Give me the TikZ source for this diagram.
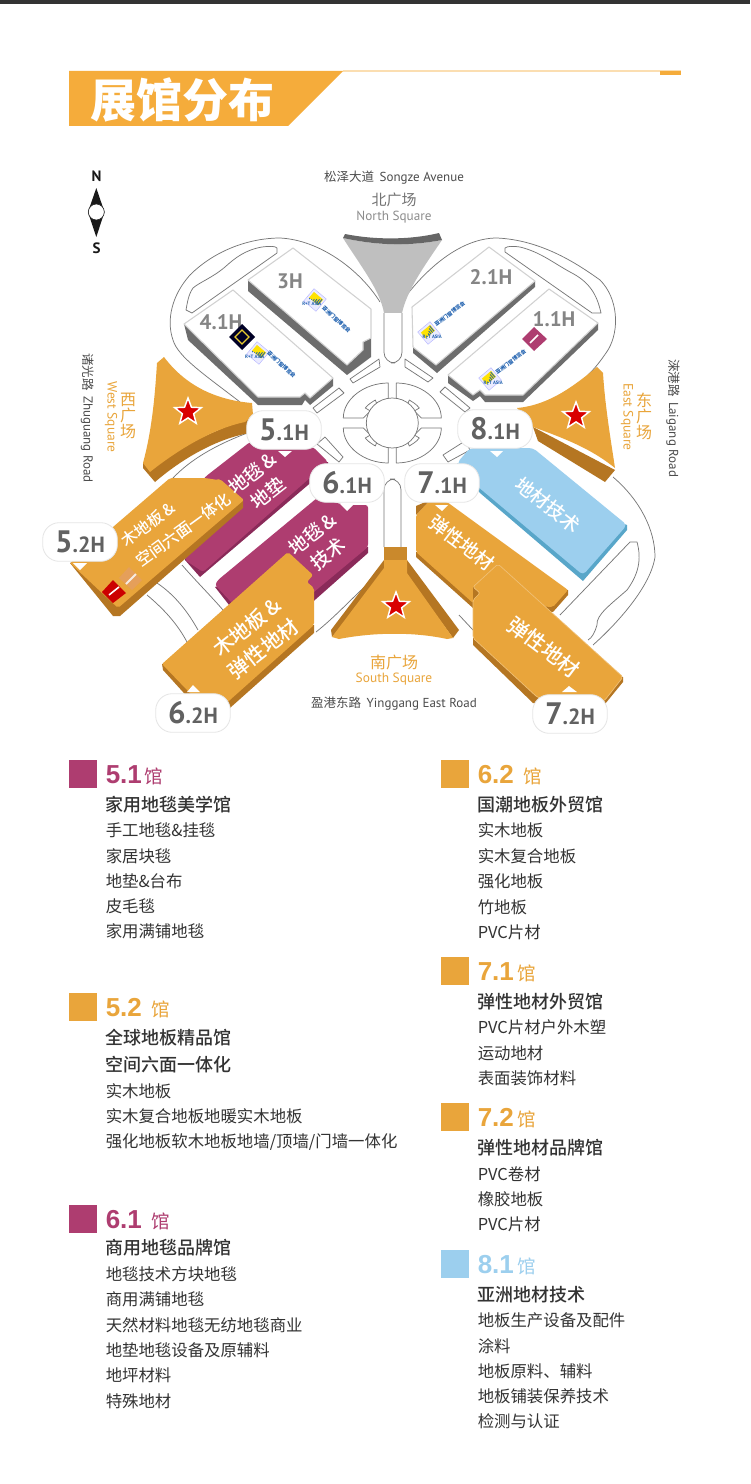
\documentclass[tikz,border=0pt]{standalone}
\usepackage{fontspec}
\setmainfont{Noto Sans CJK SC}
\newfontfamily\din{PT Sans}
\newfontfamily\arl{Liberation Sans}
\newfontfamily\cjkm{Noto Sans CJK SC Medium}
\definecolor{org}{HTML}{E9A53B}
\definecolor{orgd}{HTML}{B57622}
\definecolor{ttl}{HTML}{F5AC3B}
\definecolor{mag}{HTML}{AE3D70}
\definecolor{magd}{HTML}{8A2A59}
\definecolor{blu}{HTML}{9CCFEE}
\definecolor{blud}{HTML}{58A6C9}
\definecolor{hdark}{HTML}{6D6D6D}
\definecolor{rline}{HTML}{777777}
\definecolor{txt}{HTML}{333333}
\definecolor{logob}{HTML}{1D5FAE}
\newcommand{\px}[1]{\fontsize{\dimexpr#1pt*3/4\relax}{\dimexpr#1pt*3/4\relax}\selectfont}
\newcommand{\pxl}[2]{\fontsize{\dimexpr#1pt*3/4\relax}{\dimexpr#2pt*3/4\relax}\selectfont}
\tikzset{
 road/.style={draw=rline,line width=0.55pt,fill=white,line join=round},
 roadl/.style={draw=rline,line width=0.55pt,line join=round},
 hallface/.style={fill=white,draw=black!18,line width=0.8pt,line join=round},
 hallside/.style={fill=hdark},
 pill/.style={fill=white,draw=black!10,line width=0.6pt,rounded corners=12.5pt,minimum width=56pt,minimum height=29pt,inner sep=0pt},
 halltxt/.style={text=black!48,font=\din\bfseries\px{21}},
 head/.style={anchor=west,inner sep=0pt,font=\arl\bfseries\px{26}},
 item/.style={anchor=west,inner sep=0pt,text=txt,font=\px{16.4}},
 itemb/.style={anchor=west,inner sep=0pt,text=txt,font=\cjkm\px{18}},
 wlabel/.style={text=white,inner sep=0pt},
 sq/.style={text=org,inner sep=0pt},
 rdtxt/.style={text=black!70,inner sep=0pt,font=\px{12.5}},
 star/.style={fill=red!85!black,draw=white,line width=1.1pt},
}
\newcommand{\starat}[3]{\fill[star] plot[samples at={0,...,10}] ({#1+#3*(mod(\x,2)==0?1:0.42)*sin(36*\x)},{#2-#3*(mod(\x,2)==0?1:0.42)*cos(36*\x)}) -- cycle;}
\newcommand{\rtlogo}[3]{%
\begin{scope}[shift={(#1,#2)},rotate=#3]
\fill[fill=blue!8,draw=blue!30,line width=.3pt] (-8,-8) rectangle (8,8);
\fill[yellow!85!orange] (-6,-5.5) rectangle (6,2);
\foreach \i in {-5,-3,-1,1,3,5}{\fill[logob] (\i-.4,{-1-\i*.8}) rectangle (\i+.4,2);}
\node[text=logob,inner sep=0,font=\din\bfseries\fontsize{3.6}{3.6}\selectfont] at (0,5) {R+T ASIA};
\end{scope}}
\begin{document}
\begin{tikzpicture}[x=0.75pt,y=-0.75pt]
\useasboundingbox (0,0) rectangle (750,1484);
\fill[white] (0,0) rectangle (750,1484);
\fill[black!80] (0,0) rectangle (750,4);
% title
\fill[ttl!40] (343,70) rectangle (681,72.5);
\fill[ttl] (69,71) -- (343,71) -- (288,126) -- (69,126) -- cycle;
\fill[ttl] (660,71) rectangle (681,75.5);
\node[text=white,inner sep=0,font=\bfseries\px{46}] (title) at (182,100) {展馆分布};
% compass
\node[inner sep=0,font=\din\bfseries\px{15},text=black!90] (cn) at (96.5,176) {N};
\node[inner sep=0,font=\din\bfseries\px{15},text=black!90] (cs) at (96.5,248) {S};
\fill[black!90] (96.3,188) -- (104.5,212) -- (96.3,237) -- (88,212) -- cycle;
\draw[fill=white,draw=black!85,line width=.5pt] (96.3,212) ellipse (8 and 8);
% top labels
\node[rdtxt] (t1) at (394,178) {松泽大道\,{\din\px{13} Songze Avenue}};
\node[inner sep=0,text=black!55,font=\px{15}] (t2) at (394,200) {北广场};
\node[inner sep=0,text=black!45,font=\din\px{13.2}] (t3) at (394,217) {North Square};
% roads outlines
\draw[roadl] (240,402) .. controls (205,375) and (178,357) .. (173,340) .. controls (166,320) and (172,295) .. (190,275) .. controls (215,250) and (250,238) .. (280,238) .. controls (320,240) and (360,270) .. (380,302);
\draw[roadl] (403,300) .. controls (425,270) and (460,238) .. (497,238) .. controls (540,240) and (575,262) .. (600,280) .. controls (618,298) and (620,330) .. (608,350) .. controls (600,362) and (595,368) .. (588,375);
\draw[road] (277,248) .. controls (275,246) and (270,246) .. (262,247) .. controls (245,250) and (235,258) .. (225,267) .. controls (212,278) and (200,282) .. (193,288) .. controls (188,295) and (187,305) .. (186,310) -- (192,313) -- (277,253) -- cycle;
\draw[road] (505,248) .. controls (508,246) and (512,246) .. (520,247) .. controls (540,252) and (552,262) .. (570,272) .. controls (590,282) and (597,295) .. (601,313) -- (592,313) -- (505,252) -- cycle;
% lower roads
\draw[roadl] (173,478) .. controls (190,460) and (215,445) .. (250,432);
\draw[roadl] (182,565) .. controls (195,580) and (210,595) .. (223,610);
\draw[roadl] (157,583) .. controls (175,595) and (188,612) .. (198,630);
\draw[roadl] (147,595) .. controls (165,610) and (178,625) .. (187,642);
\draw[roadl] (316,632) .. controls (335,617) and (350,600) .. (372,580);
\draw[roadl] (459,615) -- (473,630);
\draw[roadl] (613,477) .. controls (640,500) and (655,530) .. (655,557) .. controls (650,590) and (610,630) .. (593,645);
\draw[roadl] (560,615) -- (630,542) -- (637,542) .. controls (642,560) and (638,575) .. (627,590) .. controls (610,605) and (596,615) .. (597,625) .. controls (595,632) and (592,638) .. (588,640);
% funnel
\fill[black!25] (343,238) .. controls (380,246) and (410,246) .. (442,240) .. controls (425,265) and (407,290) .. (402,313) -- (384,313) .. controls (380,290) and (360,265) .. (343,238) -- cycle;
\fill[black!60] (345,234) .. controls (375,240) and (410,240) .. (439,233) -- (442,240) .. controls (410,246) and (380,246) .. (343,238) -- cycle;
\draw[road,rounded corners=8pt] (384,313) -- (384,363) -- (402,363) -- (402,313);
\draw[road,rounded corners=8pt] (384,547) -- (384,479) -- (401,479) -- (401,547);
% roundabout
\begin{scope}[shift={(392.3,423)}]
\foreach \sx/\sy in {1/1,-1/1,1/-1,-1/-1}{
\begin{scope}[xscale=\sx,yscale=\sy]
\draw[road] (-4,-40) .. controls (-28,-40) and (-49,-24) .. (-49,-5) -- (-29,-5) -- (-22,-12) -- (-27,-15) .. controls (-24,-19) and (-20,-21) .. (-17,-23) -- (-15,-18) -- (-4,-24) -- cycle;
\end{scope}}
\draw[road] (0,0) ellipse (26 and 25);
\end{scope}
\draw[road] (379,359)--(350,379)--(353,383)--(380,367)--cycle;
\draw[road] (405,359)--(433,378)--(428,382)--(405,367)--cycle;
\draw[road] (339,388)--(313,408)--(317,413)--(344,393)--cycle;
\draw[road] (445,387)--(470,408)--(465,412)--(440,392)--cycle;
\draw[road] (325,437)--(343,457)--(339,462)--(317,444)--cycle;
\draw[road] (465,441)--(443,455)--(448,462)--(470,450)--cycle;
% exhibition halls upper
\fill[hallside] (248,280) -- (248,291) -- (347,375) -- (371,357) -- (371,338) -- (363,342) -- (363,350) -- (347,365) -- cycle;
\draw[hallface] (293,248) -- (371,309) -- (371,338) -- (363,342) -- (363,350) -- (347,365) -- (248,280) -- cycle;
\fill[hallside] (184,324) -- (188,340) -- (258,405) -- (302,405) -- (305,400) -- (310,405) -- (333,386) -- (333,378) -- (310,398) -- (305,393) -- (300,397) -- (258,397) -- cycle;
\draw[hallface] (233,290) -- (333,378) -- (310,398) -- (305,393) -- (300,397) -- (258,397) -- (184,324) -- cycle;
\fill[hallside] (413,347) -- (413,353) -- (437,373) -- (535,287) -- (535,281) -- (436,365) -- cycle;
\draw[hallface] (489,247) -- (535,281) -- (436,365) -- (413,347) -- (412,307) -- cycle;
\fill[hallside] (448,375) -- (448,383) -- (473,401) -- (480,396) -- (485,402) -- (523,402) -- (598,330) -- (598,323) -- (523,395) -- cycle;
\draw[hallface] (549,289) -- (598,323) -- (523,395) -- (485,395) -- (480,390) -- (473,395) -- (448,375) -- cycle;
\node[halltxt] (h3) at (290,281) {3H};
\node[halltxt] (h41) at (221,322) {4.1H};
\node[halltxt] (h21) at (491,277) {2.1H};
\node[halltxt] (h11) at (554,319) {1.1H};
\rtlogo{315}{300}{-40}
\rtlogo{258}{353}{-40}
\rtlogo{429}{333}{40}
\rtlogo{490}{379}{40}
\foreach \a/\b/\r in {323/307/-43,268/352/-43,435/325/37,496/373/37}{
\node[rotate=\r,anchor=west,inner sep=0,text=logob,font=\bfseries\px{5.2}] at (\a,\b) {亚洲门窗博览会};}
\fill[black!85!blue] (242,324) -- (255,337) -- (242,350) -- (229,337) -- cycle;
\draw[yellow!60!brown,line width=1pt] (242,330) -- (249,337) -- (242,344) -- (235,337) -- cycle;
\fill[mag] (534,327) -- (547,339) -- (534,351) -- (522,339) -- cycle;
\draw[white,line width=1.3pt] (530,343) -- (538,335);
% squares
\fill[orgd] (143,463) -- (143,468) -- (155,482) .. controls (190,452) and (225,437) .. (250,433) -- (253,415) -- cycle;
\fill[org] (164,357) .. controls (185,385) and (215,400) .. (252,403) -- (253,415) -- (245,422) .. controls (215,428) and (180,448) .. (150,472) -- (143,463) .. controls (152,430) and (155,395) .. (157,363) -- cycle;
\starat{188}{412}{14}
\fill[orgd] (533,427) -- (538,441) -- (605,482) -- (615,470) -- cycle;
\fill[org] (597,367) -- (603,373) .. controls (605,405) and (610,435) .. (615,468) .. controls (595,452) and (575,442) .. (533,427) -- (517,408) .. controls (550,405) and (575,385) .. (597,367) -- cycle;
\starat{576}{416}{14}
\fill[orgd] (384,560) -- (331,630) -- (332,637) -- (384,575) -- (407,575) -- (453,638) -- (459,630) -- (407,560) -- cycle;
\fill[org] (384,568) -- (384,560) -- (407,560) -- (407,573) -- (453,638) -- (447,639) .. controls (415,632) and (375,632) .. (339,639) -- (332,637) -- cycle;
\fill[orgd!60!org] (384,547) rectangle (407,560);
\starat{396}{606}{14}
% halls lower
\fill[blud] (457,463) -- (480,493) -- (583,581) -- (627,530) -- (627,525) -- cycle;
\fill[blu,rounded corners=3pt] (457,463) -- (470,448) -- (533,448) -- (627,525) -- (583,575) -- (477,486) -- cycle;
\fill[magd] (205,477) -- (185,560) -- (200,577) -- (328,468) -- (328,462) -- cycle;
\fill[mag,rounded corners=2pt] (205,477) -- (250,442) -- (265,447) -- (313,447) -- (328,462) -- (203,572) -- (185,560) -- cycle;
\fill[magd] (215,587) -- (233,610) -- (290,622) -- (368,553) -- (368,547) -- cycle;
\fill[mag,rounded corners=2pt] (215,585) -- (218,580) -- (317,498) -- (345,505) -- (368,505) -- (368,547) -- (290,612) -- (233,604) -- cycle;
\fill[orgd] (70,563) -- (113,616) -- (120,616) -- (243,508) -- (243,500) -- cycle;
\fill[org,rounded corners=1.5pt] (70,563) -- (113,527) -- (170,478) -- (205,478) -- (218,480) -- (220,479) -- (244,500) -- (118,608) -- cycle;
\fill[orgd] (162,664) -- (163,670) -- (212,724) -- (314,633) -- (314,625) -- cycle;
\fill[org,rounded corners=1.5pt] (288,552) -- (313,575) -- (307,582) -- (314,588) -- (314,625) -- (212,716) -- (162,664) -- cycle;
\fill[orgd] (416,552) -- (416,557) -- (473,608) -- (553,612) -- (568,595) -- (568,590) -- cycle;
\fill[org,rounded corners=1.5pt] (416,515) -- (430,500) -- (447,502) -- (568,590) -- (553,607) -- (473,603) -- (416,552) -- cycle;
\fill[orgd] (416,515) -- (416,506) -- (430,500) -- cycle;
\fill[orgd] (473,638) -- (473,645) -- (533,703) -- (605,704) -- (623,682) -- (623,677) -- cycle;
\fill[orgd] (473,587) -- (473,600) -- (480,593) -- cycle;
\draw[fill=org,draw=org!70!white,line width=.5pt,rounded corners=1.5pt] (498,564) -- (623,677) -- (605,700) -- (580,715) -- (537,697) -- (473,638) -- (473,600) -- (480,593) -- (473,587) -- cycle;
% hall labels
\node[wlabel,rotate=36,align=left,font=\cjkm\pxl{16}{25}] (w1) at (176,520) {木地板\,\&\\空间六面一体化};
\node[wlabel,rotate=38,align=center,font=\cjkm\pxl{19}{25}] (w2) at (260,483) {地毯\,\&\\地垫};
\node[wlabel,rotate=38,align=center,font=\cjkm\pxl{19}{25}] (w3) at (320,544) {地毯\,\&\\技术};
\node[wlabel,rotate=38,align=center,font=\cjkm\pxl{20.5}{27}] (w4) at (255,638) {木地板\,\&\\弹性地材};
\node[wlabel,rotate=-37,font=\cjkm\px{19}] (w5) at (462,543) {弹性地材};
\node[wlabel,rotate=-37,font=\cjkm\px{21}] (w6) at (544,647) {弹性地材};
\node[wlabel,rotate=-38,font=\cjkm\px{19}] (w7) at (548,505) {地材技术};
% small brand marks
\fill[red!80!black] (113,580) -- (126,593) -- (113,603) -- (102,592) -- cycle;
\draw[white,line width=1.2pt] (109,595) -- (119,587);
\fill[brown!55!orange!75] (129,567) -- (142,580) -- (132,590) -- (119,578) -- cycle;
\draw[white!85!brown,line width=1.5pt] (126,584) -- (136,574);
% triangles
\fill[white] (73,563) -- (87,563) -- (80,570) -- cycle;
\fill[white] (278,451) -- (292,451) -- (285,457) -- cycle;
\fill[white] (340,504) -- (354,504) -- (347,511) -- cycle;
\fill[white] (435,505) -- (448,505) -- (442,511) -- cycle;
\fill[white] (490,451) -- (503,451) -- (497,457) -- cycle;
\fill[white] (187,692) -- (193,685) -- (200,692) -- cycle;
\fill[white] (562,692) -- (569,686) -- (577,692) -- cycle;
% pills
\foreach \n/\x/\y/\a/\b in {p51/284/430/5/.1H,p52/80/542/5/.2H,p61/347/483/6/.1H,p62/193/713/6/.2H,p71/442/483/7/.1H,p72/570/714/7/.2H,p81/495/429/8/.1H}{
\node[pill,text=black!62] (\n) at (\x,\y) {\din\bfseries\px{31}\a\px{22}\b};}
% side text
\node[rdtxt,rotate=-90] (r1) at (87.5,418) {诸光路\,{\din\px{13} Zhuguang Road}};
\node[rdtxt,rotate=-90] (r2) at (673,418) {淶港路\,{\din\px{13} Laigang Road}};
\node[sq,font=\din\px{13.5},rotate=-90] (r3) at (111,417) {West Square};
\node[sq,font=\din\px{13.5},rotate=-90] (r4) at (627,417) {East Square};
\node[sq,font=\pxl{16}{16},align=center] (r5) at (128,416) {西\\广\\场};
\node[sq,font=\pxl{16}{16},align=center] (r6) at (644,416) {东\\广\\场};
\node[sq,font=\px{16}] (r7) at (394,662) {南广场};
\node[sq,font=\din\px{13.4}] (r8) at (394,679) {South Square};
\node[rdtxt] (r9) at (394,704) {盈港东路\,{\din\px{13} Yinggang East Road}};
% legend
\foreach \n/\x/\y/\col/\num/\sp in {a/69/760/mag/5.1/0,b/69/993/org/5.2/5,c/69/1205/mag/6.1/5,d/441/760/org/6.2/5,e/441/957/org/7.1/0,f/441/1103/org/7.2/0,g/441/1250/blu/8.1/0}{
\fill[\col] (\x,\y) rectangle ++(28,28);
\node[head,text=\col] (\n h) at (\x+36.5,\y+15) {\num\hspace{\sp pt}\normalfont\mdseries\px{18.5}\,馆};}
\foreach \y/\t in {805/家用地毯美学馆,1038/全球地板精品馆,1065/空间六面一体化,1248/商用地毯品牌馆}{\node[itemb] at (105.5,\y) {\t};}
\foreach \y/\t in {830/手工地毯\&挂毯,856/家居块毯,881/地垫\&台布,906/皮毛毯,931/家用满铺地毯,1091/实木地板,1116/实木复合地板地暖实木地板,1142/{强化地板软木地板地墙/顶墙/门墙一体化},1274/地毯技术方块地毯,1299/商用满铺地毯,1325/天然材料地毯无纺地毯商业,1350/地垫地毯设备及原辅料,1375/地坪材料,1401/特殊地材}{\node[item] at (105.5,\y) {\t};}
\foreach \y/\t in {805/国潮地板外贸馆,1002/弹性地材外贸馆,1148/弹性地材品牌馆,1295/亚洲地材技术}{\node[itemb] at (477.5,\y) {\t};}
\foreach \y/\t in {830/实木地板,856/实木复合地板,881/强化地板,907/竹地板,932/PVC片材,1027/PVC片材户外木塑,1053/运动地材,1078/表面装饰材料,1174/PVC卷材,1199/橡胶地板,1224/PVC片材,1320/地板生产设备及配件,1346/涂料,1371/地板原料、辅料,1396/地板铺装保养技术,1421/检测与认证}{\node[item] at (477.5,\y) {\t};}
\end{tikzpicture}
\end{document}
